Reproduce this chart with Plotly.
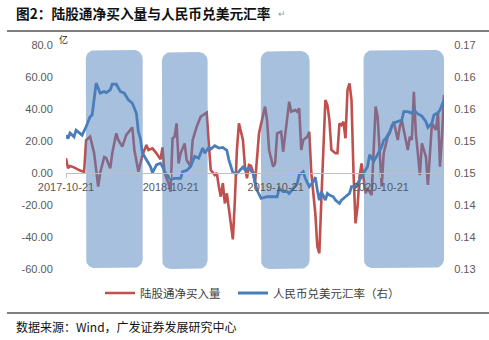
import numpy as np
import pandas as pd
import plotly.graph_objects as go

# ---------------- data ----------------
start_date = "2017-10-21"

red_weeks = [0, 1, 2, 4, 7, 9, 10, 12, 14, 16, 17, 19, 20, 22, 23, 25, 26, 28, 30, 32,
             33, 34, 36, 38, 40, 41, 43, 45, 46, 47, 48, 49, 51, 52, 53, 54, 55, 56, 57, 59,
             60, 62, 63, 65, 67, 69, 70, 71, 72, 74, 75, 76, 77, 78, 79, 80, 81, 83, 84, 85,
             86, 88, 89, 90, 91, 92, 93, 94, 96, 98, 99, 100, 101, 103, 104, 105, 107, 108, 110, 111,
             112, 114, 115, 116, 117, 118, 120, 121, 122, 123, 124, 125, 126, 127, 129, 130, 131, 132, 134, 135,
             136, 137, 138, 139, 140, 141, 142, 143, 144, 145, 146, 147, 149, 150, 151, 152, 154, 155, 157, 158,
             160, 161, 162, 163, 165, 166, 167, 168, 170, 171, 172, 173, 174, 175, 176, 177, 179, 180, 181, 182,
             184, 185, 186, 187, 188]
red_values = [9.2, 3.0, 4.4, 3.5, 1.5, 0.8, 20.6, 22.7, 12.3, -8.5, 0.0, 10.0, 9.4, 2.9, 12.3, 24.8, 20.6, 16.5, 23.8, 26.9,
              28.5, 14.4, 0.8, 11.2, 17.5, 14.4, 15.4, 12.3, 10.2, 8.5, 16.0, 0.0, -6.4, -11.7, 21.7, 22.7, 31.0, 6.0, 12.3, 18.5,
              8.1, 4.0, 20.6, 29.0, 35.2, 36.9, 37.7, 18.5, 1.9, -1.3, 0.0, -8.5, -14.8, -6.4, -19.0, -12.7, -23.0, -41.5, -16.9, 14.4,
              31.0, 20.6, 4.0, -3.3, 5.0, 4.4, 0.8, -6.4, 24.8, 35.2, 41.5, 33.0, 14.4, 4.0, 6.0, 24.8, 25.8, 13.3, 33.0, 44.6,
              38.3, 39.4, 38.3, 40.4, 14.4, 20.6, 22.7, 25.8, 0.0, -12.7, -25.2, -46.0, -50.2, -16.9, 45.6, 42.5, 33.0, 14.4, 12.3, 12.3,
              31.0, 30.0, 32.0, 21.7, 51.9, 56.0, 45.6, 0.0, -31.5, -21.0, -2.3, 6.0, -12.7, -9.6, -11.7, -13.8, 41.5, 35.2, -8.5, 12.3,
              22.7, 24.8, 29.0, 32.0, 20.6, 29.0, 33.0, 26.9, 14.4, 22.7, 20.6, 50.8, 24.8, 12.3, -1.3, 18.5, 10.2, -7.5, 12.3, 31.0,
              26.9, 38.3, 4.0, 22.7, 48.8]

blue_weeks = [0, 1, 2, 4, 5, 7, 8, 10, 12, 13, 14, 15, 17, 19, 20, 22, 23, 25, 27, 29,
              31, 33, 35, 36, 37, 38, 40, 42, 43, 45, 47, 48, 49, 51, 52, 54, 57, 58, 60, 62,
              63, 64, 66, 67, 68, 69, 71, 72, 74, 76, 78, 80, 81, 83, 85, 86, 88, 89, 91, 93,
              95, 97, 100, 105, 106, 108, 110, 111, 113, 115, 116, 118, 119, 120, 121, 123, 124, 125, 126, 127,
              129, 130, 131, 133, 134, 136, 137, 139, 141, 142, 144, 146, 148, 150, 151, 153, 154, 156, 157, 158,
              159, 161, 162, 163, 165, 167, 168, 170, 172, 173, 175, 177, 179, 180, 182, 183, 185, 186, 188]
blue_values = [0.1539, 0.1533, 0.1543, 0.1536, 0.1548, 0.1541, 0.1539, 0.1554, 0.1572, 0.1575,
               0.1608, 0.1632, 0.1614, 0.1617, 0.1615, 0.1620, 0.1630, 0.1630, 0.1617, 0.1614,
               0.1602, 0.1596, 0.1578, 0.1545, 0.1533, 0.1507, 0.1495, 0.1483, 0.1472, 0.1486,
               0.1489, 0.1483, 0.1474, 0.1465, 0.1460, 0.1462, 0.1462, 0.1474, 0.1476, 0.1483,
               0.1492, 0.1501, 0.1498, 0.1507, 0.1516, 0.1507, 0.1517, 0.1514, 0.1520, 0.1516,
               0.1517, 0.1512, 0.1495, 0.1472, 0.1471, 0.1474, 0.1482, 0.1477, 0.1480, 0.1471,
               0.1441, 0.1426, 0.1429, 0.1429, 0.1444, 0.1438, 0.1438, 0.1435, 0.1444, 0.1453,
               0.1468, 0.1474, 0.1462, 0.1453, 0.1447, 0.1456, 0.1464, 0.1441, 0.1423, 0.1438,
               0.1423, 0.1435, 0.1432, 0.1429, 0.1423, 0.1417, 0.1423, 0.1429, 0.1435, 0.1447,
               0.1447, 0.1459, 0.1471, 0.1483, 0.1504, 0.1492, 0.1498, 0.1512, 0.1518, 0.1530,
               0.1533, 0.1545, 0.1555, 0.1561, 0.1563, 0.1566, 0.1581, 0.1581, 0.1578, 0.1584,
               0.1577, 0.1573, 0.1563, 0.1553, 0.1561, 0.1575, 0.1579, 0.1584, 0.1602]

x_tick_dates = ["2017-10-21", "2018-10-21", "2019-10-21", "2020-10-21"]
left_tick_values = [80, 60, 40, 20, 0, -20, -40, -60]
left_tick_labels = ["80.0", "60.00", "40.00", "20.00", "0.00", "-20.00", "-40.00", "-60.00"]
right_tick_labels = ["0.17", "0.16", "0.16", "0.15", "0.15", "0.14", "0.14", "0.13"]

shade_starts = ["2017-12-29", "2018-09-20", "2019-08-30", "2020-08-22"]
shade_ends = ["2018-07-15", "2019-02-26", "2020-02-16", "2021-05-29"]
shade_tops = [76.9, 75.6, 76.2, 76.9]
shade_bottoms = [-59.4, -60.0, -60.0, -59.4]

series_names = ["陆股通净买入量", "人民币兑美元汇率（右）"]
title_text = "图2：陆股通净买入量与人民币兑美元汇率"
source_text = "数据来源：Wind，广发证券发展研究中心"
unit_text = "亿"

# ---------------- layout geometry ----------------
W, H = 489, 340
ML, MR, MT, MB = 66, 45, 45, 71
PW, PH = W - ML - MR, H - MT - MB

LEFT_RANGE = [-60, 80]
RIGHT_RANGE = [0.13, 0.17]

start_ts = pd.Timestamp(start_date)
red_x = [start_ts + pd.Timedelta(days=7 * w) for w in red_weeks]
blue_x = [start_ts + pd.Timedelta(days=7 * w) for w in blue_weeks]
x_end = blue_x[-1]


def px_x(p):
    return (p - ML) / PW


def px_y(p):
    return (H - MB - p) / PH


CJK = "Noto Sans CJK SC"
LAT = "Liberation Sans, Arial"

fig = go.Figure()

fig.add_trace(go.Scatter(x=red_x, y=red_values, mode="lines", name=series_names[0],
                         line=dict(color="#c0504d", width=2.6), yaxis="y", legend="legend"))

# rounded shading boxes (drawn above the red line, below the blue line)
ms0 = start_ts.value / 1e6
ms1 = x_end.value / 1e6
ms_per_px = (ms1 - ms0) / PW
val_per_px = (LEFT_RANGE[1] - LEFT_RANGE[0]) / PH
R = 9
rx, ry = R * ms_per_px, R * val_per_px
for s, e, t, b in zip(shade_starts, shade_ends, shade_tops, shade_bottoms):
    xs0 = pd.Timestamp(s).value / 1e6
    xs1 = pd.Timestamp(e).value / 1e6
    pts_x, pts_y = [], []
    corners = [(xs1 - rx, t - ry, 0), (xs0 + rx, t - ry, 90),
               (xs0 + rx, b + ry, 180), (xs1 - rx, b + ry, 270)]
    for cx, cy, a0 in corners:
        for a in np.linspace(a0, a0 + 90, 10):
            pts_x.append(cx + rx * np.cos(np.radians(a)))
            pts_y.append(cy + ry * np.sin(np.radians(a)))
    pts_x.append(pts_x[0])
    pts_y.append(pts_y[0])
    fig.add_trace(go.Scatter(x=pd.to_datetime(pts_x, unit="ms"), y=pts_y, mode="lines",
                             fill="toself", fillcolor="rgba(79,129,189,0.5)",
                             line=dict(width=0, color="rgba(0,0,0,0)"),
                             hoverinfo="skip", showlegend=False, yaxis="y"))

fig.add_trace(go.Scatter(x=blue_x, y=blue_values, mode="lines", name=series_names[1],
                         line=dict(color="#4a7ebb", width=2.8), yaxis="y2", legend="legend2"))

zero_pos = (0 - LEFT_RANGE[0]) / (LEFT_RANGE[1] - LEFT_RANGE[0])
right_vals = list(np.linspace(RIGHT_RANGE[1], RIGHT_RANGE[0], len(right_tick_labels)))

legend_common = dict(orientation="h", yanchor="middle", xanchor="left",
                     font=dict(family=CJK, size=11.5, color="#404040"),
                     itemwidth=30, bgcolor="rgba(0,0,0,0)", borderwidth=0)

fig.update_layout(
    width=W, height=H,
    margin=dict(l=ML, r=MR, t=MT, b=MB),
    paper_bgcolor="white", plot_bgcolor="white",
    showlegend=True,
    legend=dict(x=px_x(100), y=px_y(293), **legend_common),
    legend2=dict(x=px_x(233), y=px_y(293), **legend_common),
    xaxis=dict(type="date", range=[start_ts, x_end], anchor="free", position=zero_pos,
               showline=True, linecolor="#bfbfbf", linewidth=1,
               tickvals=x_tick_dates, tickformat="%Y-%m-%d",
               ticks="outside", ticklen=4, tickcolor="#bfbfbf",
               tickfont=dict(family=LAT, size=11, color="#595959"),
               showgrid=False, zeroline=False),
    yaxis=dict(range=LEFT_RANGE, tickvals=left_tick_values, ticktext=left_tick_labels,
               ticks="outside", ticklen=10, tickcolor="rgba(0,0,0,0)",
               tickfont=dict(family=LAT, size=11, color="#595959"),
               showgrid=False, zeroline=False, showline=False),
    yaxis2=dict(range=RIGHT_RANGE, overlaying="y", side="right", anchor="x",
                tickvals=right_vals, ticktext=right_tick_labels,
                ticks="outside", ticklen=7, tickcolor="rgba(0,0,0,0)",
                tickfont=dict(family=LAT, size=11, color="#595959"),
                showgrid=False, zeroline=False, showline=False),
)

fig.add_annotation(text="<b>" + title_text + "</b>", xref="paper", yref="paper",
                   x=px_x(14), y=px_y(13), xanchor="left", yanchor="middle", showarrow=False,
                   font=dict(family=CJK, size=13.7, color="#111111"))
fig.add_annotation(text="↵", xref="paper", yref="paper",
                   x=px_x(276), y=px_y(14), xanchor="left", yanchor="middle", showarrow=False,
                   font=dict(family=LAT, size=9, color="#9a9a9a"))
fig.add_annotation(text=unit_text, xref="paper", yref="paper",
                   x=px_x(57), y=px_y(40), xanchor="left", yanchor="middle", showarrow=False,
                   font=dict(family=CJK, size=9, color="#222222"))
fig.add_annotation(text=source_text, xref="paper", yref="paper",
                   x=px_x(14), y=px_y(326), xanchor="left", yanchor="middle", showarrow=False,
                   font=dict(family=CJK, size=12, color="#111111"))

fig.add_shape(type="line", xref="paper", yref="paper", x0=px_x(7), x1=px_x(489),
              y0=px_y(31), y1=px_y(31), line=dict(color="#000000", width=1))
fig.add_shape(type="line", xref="paper", yref="paper", x0=px_x(7), x1=px_x(489),
              y0=px_y(313), y1=px_y(313), line=dict(color="#000000", width=1))

fig.write_html("out.html")
